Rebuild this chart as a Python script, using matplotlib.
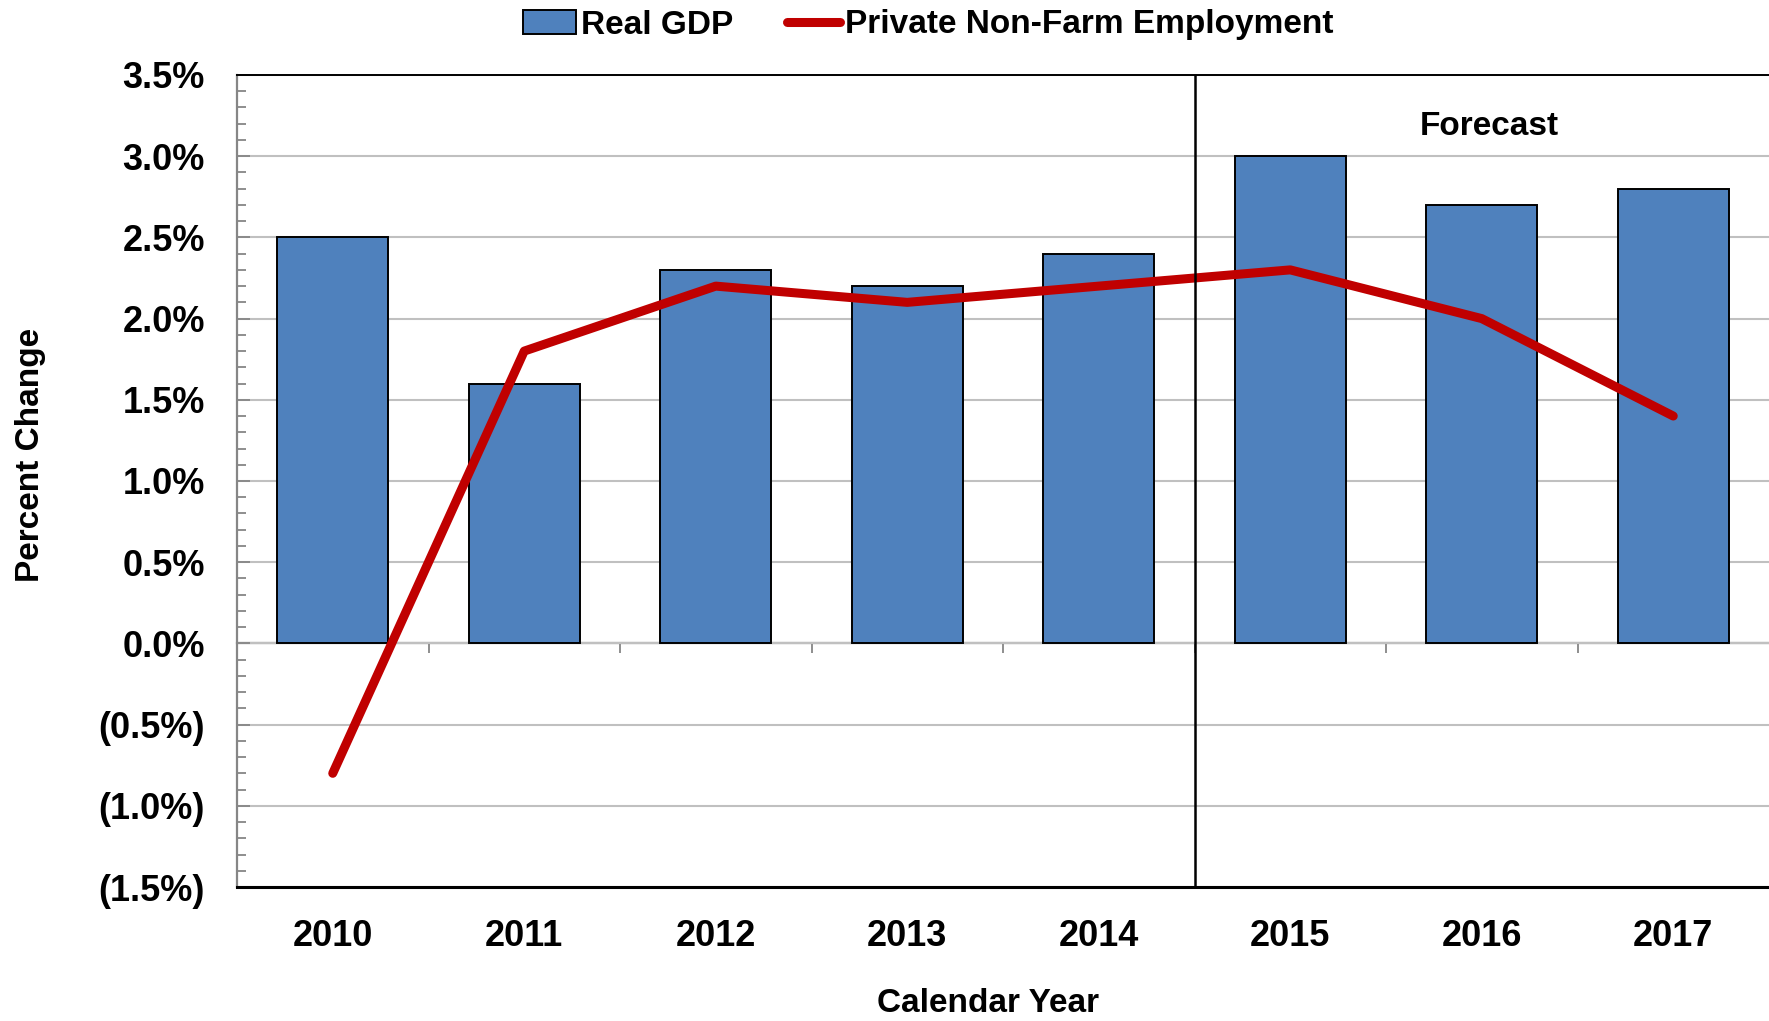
import numpy as np
import matplotlib
matplotlib.use("Agg")
import matplotlib.pyplot as plt
from matplotlib.ticker import FuncFormatter, MultipleLocator

years = ["2010", "2011", "2012", "2013", "2014", "2015", "2016", "2017"]
real_gdp = [2.5, 1.6, 2.3, 2.2, 2.4, 3.0, 2.7, 2.8]
employment = [-0.8, 1.8, 2.2, 2.1, 2.2, 2.3, 2.0, 1.4]
forecast_start = 4.5  # boundary between 2014 and 2015

bold = {"family": ["Liberation Sans", "DejaVu Sans"], "weight": "bold"}

fig = plt.figure(figsize=(17.69, 10.21), dpi=100)
ax = fig.add_axes([237 / 1769, 1 - 887 / 1021, 1 - 237 / 1769, (887 - 75) / 1021])

x = np.arange(len(years))
bars = ax.bar(x, real_gdp, width=0.58, color="#4F81BD", edgecolor="black", linewidth=1.4,
              zorder=3, label="Real GDP")
line, = ax.plot(x, employment, color="#C00000", linewidth=6.5, solid_capstyle="round",
                zorder=4, label="Private Non-Farm Employment")
ax.axvline(forecast_start, color="black", linewidth=1.8, zorder=5)

ax.set_xlim(-0.5, len(years) - 0.5)
ax.set_ylim(-1.5, 3.5)

# y axis
ax.yaxis.set_major_locator(MultipleLocator(0.5))
ax.yaxis.set_minor_locator(MultipleLocator(0.1))
ax.yaxis.set_major_formatter(FuncFormatter(
    lambda v, p: f"({abs(v):.1f}%)" if v < -1e-9 else f"{abs(v):.1f}%"))
ax.tick_params(axis="y", which="major", direction="in", length=9, width=1.3,
               color="#868686", pad=23, labelsize=26)
ax.tick_params(axis="y", which="minor", direction="in", length=6.5, width=1.3,
               color="#868686")
for lbl in ax.get_yticklabels():
    lbl.set_fontfamily(bold["family"])
    lbl.set_fontweight("bold")
ax.grid(axis="y", color="#C0C0C0", linewidth=1.5, zorder=0)

# x axis: labels at bottom, tick marks on the 0% line
ax.set_xticks(x)
ax.set_xticklabels(years)
ax.tick_params(axis="x", length=0, pad=23, labelsize=26)
for lbl in ax.get_xticklabels():
    lbl.set_fontfamily(bold["family"])
    lbl.set_fontweight("bold")

zero_axis = ax.secondary_xaxis(1.5 / 5.0)
zero_axis.set_xticks(x[:-1] + 0.5)
zero_axis.set_xticklabels([])
zero_axis.tick_params(direction="out", length=7.5, width=1.3, color="#868686")
zero_axis.spines["bottom"].set_color("#868686")
zero_axis.spines["bottom"].set_linewidth(1.6)

ax.spines["left"].set_color("#868686")
ax.spines["left"].set_linewidth(1.6)
ax.spines["bottom"].set_color("black")
ax.spines["bottom"].set_linewidth(2.2)
ax.spines["top"].set_color("black")
ax.spines["top"].set_linewidth(1.4)
ax.spines["right"].set_visible(False)

ax.text(6.04, 3.18, "Forecast", ha="center", va="center", fontsize=24, **bold)

fig.text(30 / 1769, 1 - 455 / 1021, "Percent Change", rotation=90, ha="center",
         va="center", fontsize=24, **bold)
fig.text(988 / 1769, 1 - 1003 / 1021, "Calendar Year", ha="center", va="center",
         fontsize=24, **bold)

fig.legend(handles=[bars, line], loc="center", bbox_to_anchor=(928 / 1769, 1 - 25 / 1021),
           ncol=2, frameon=False, prop={"family": bold["family"], "weight": "bold", "size": 24},
           handlelength=1.6, handleheight=0.75, handletextpad=0.15, columnspacing=1.6,
           borderaxespad=0)

fig.savefig("out.png", dpi=100)
